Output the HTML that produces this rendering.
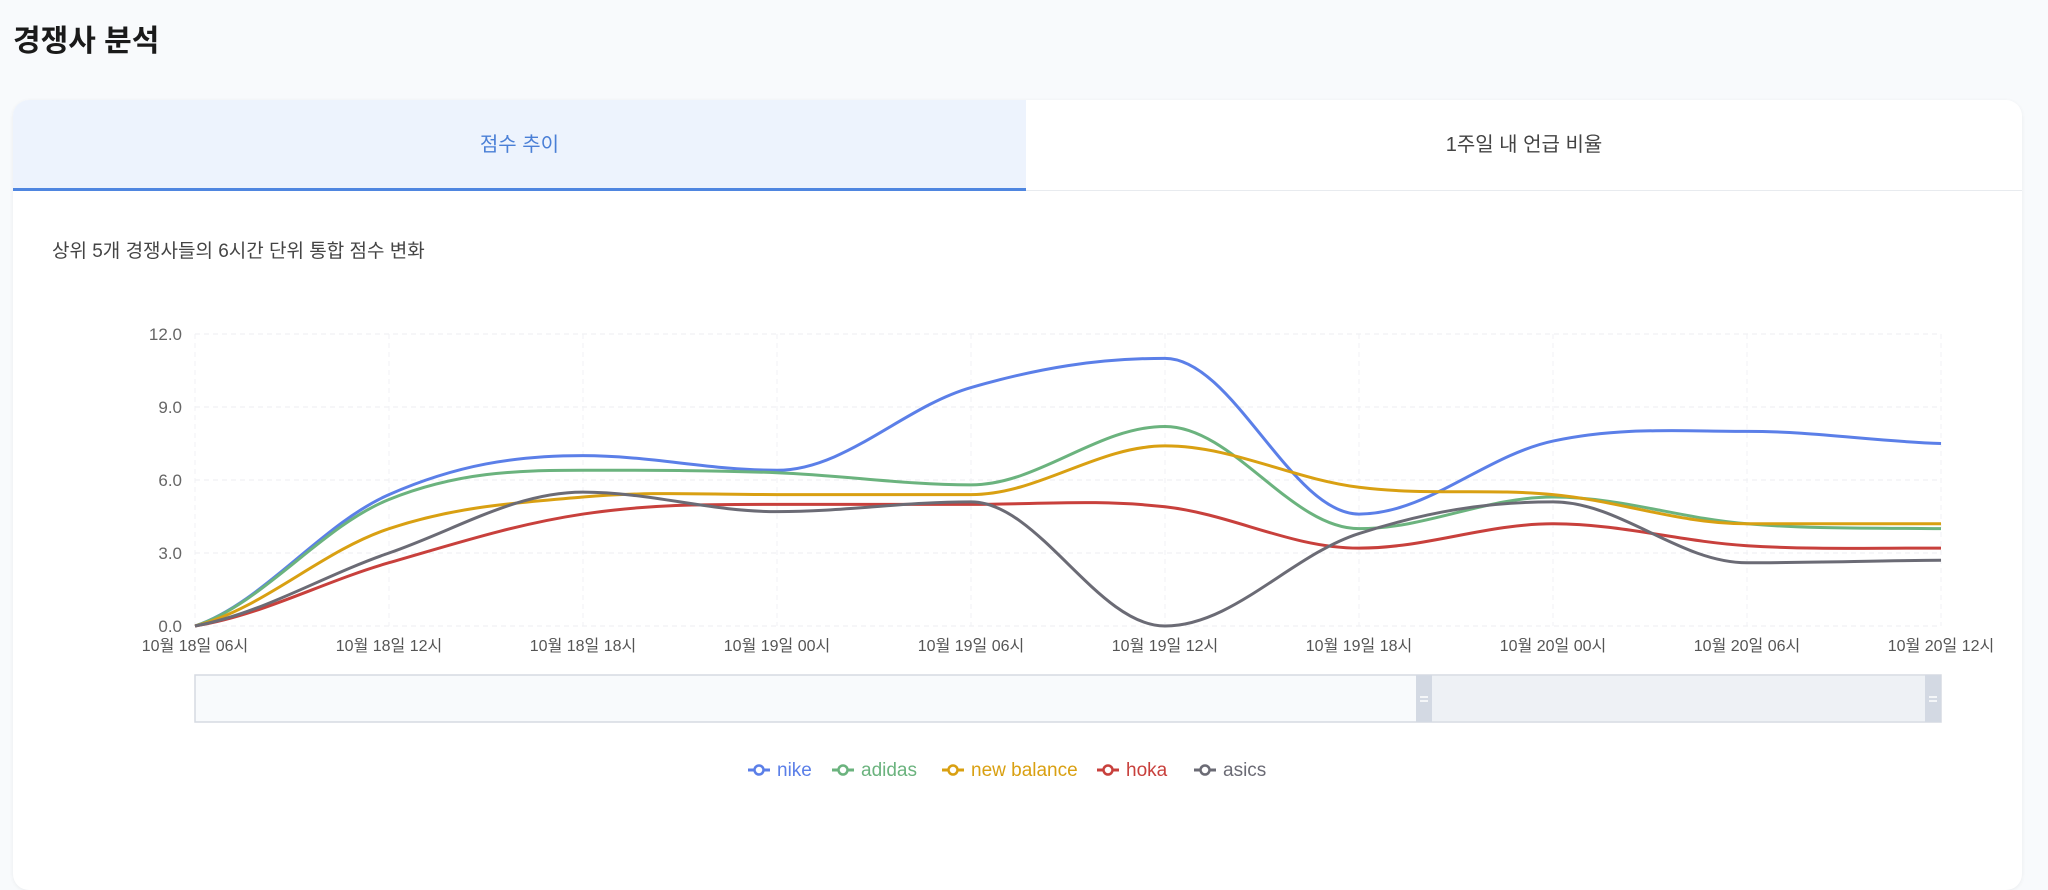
<!DOCTYPE html>
<html><head><meta charset="utf-8"><style>
body{margin:0;width:2048px;height:867px;background:#f8fafc;font-family:"Liberation Sans","Noto Sans CJK KR",sans-serif;overflow:hidden;position:relative}
.title{position:absolute;left:13px;top:16px;font-size:30px;font-weight:bold;color:#1a1a1a}
.card{position:absolute;left:13px;top:100px;width:2009px;height:790px;background:#fff;border-radius:16px;box-shadow:0 1px 4px rgba(0,0,0,0.06);overflow:hidden}
.tab{position:absolute;top:0;height:90px;line-height:90px;text-align:center;font-size:20px}
.t1{left:0;width:1013px;background:#edf3fd;color:#4a7fd6;border-bottom:3px solid #4f86e0;height:88px}
.t2{left:1013px;width:996px;color:#444;border-bottom:1px solid #e8ebef;height:90px}
.sub{position:absolute;left:52px;top:236px;font-size:19px;color:#444}
svg{position:absolute;left:0;top:0}
</style></head><body>
<div class="title">경쟁사 분석</div>
<div class="card">
<div class="tab t1">점수 추이</div>
<div class="tab t2">1주일 내 언급 비율</div>
</div>
<div class="sub">상위 5개 경쟁사들의 6시간 단위 통합 점수 변화</div>
<svg id="chart" width="2048" height="867"></svg>
<script>
const categories=["10월 18일 06시","10월 18일 12시","10월 18일 18시","10월 19일 00시","10월 19일 06시","10월 19일 12시","10월 19일 18시","10월 20일 00시","10월 20일 06시","10월 20일 12시"];
const yTicks=[0,3,6,9,12];
const seriesNames=["nike","adidas","new balance","hoka","asics"];
const nike=[0,5.4,7.0,6.4,9.8,11.0,4.6,7.6,8.0,7.5];
const adidas=[0,5.2,6.4,6.3,5.8,8.2,4.0,5.3,4.2,4.0];
const newBalance=[0,4.0,5.3,5.4,5.4,7.4,5.7,5.4,4.2,4.2];
const hoka=[0,2.6,4.6,5.0,5.0,4.9,3.2,4.2,3.3,3.2];
const asics=[0,3.0,5.5,4.7,5.1,0.0,3.8,5.1,2.6,2.7];
const colors=["#5b7fe8","#6bb37e","#d9a012","#c8403c","#6b6b75"];
const allSeries=[nike,adidas,newBalance,hoka,asics];
const L=195,R=1941,T=334,B=626,NS="http://www.w3.org/2000/svg";
const svg=document.getElementById('chart');
const xS=i=>L+(R-L)*i/(categories.length-1);
const yS=v=>B-(B-T)*v/12;
function mk(tag,attrs,parent){const e=document.createElementNS(NS,tag);for(const k in attrs)e.setAttribute(k,attrs[k]);(parent||svg).appendChild(e);return e;}
yTicks.forEach(v=>{
 const g=mk('line',{x1:L,x2:R,y1:yS(v),y2:yS(v),stroke:'#eceef2','stroke-dasharray':'5,4'});
 
 
 const t=mk('text',{x:L-13,y:yS(v)+6,'text-anchor':'end','font-size':17,fill:'#666'});
 t.textContent=v.toFixed(1);
 
 
});
categories.forEach((c,i)=>{
 const g=mk('line',{x1:xS(i),x2:xS(i),y1:T,y2:B,stroke:'#f0f1f4','stroke-dasharray':'5,4'});
 
 
 const t=mk('text',{x:xS(i),y:B+25,'text-anchor':'middle','font-size':16,fill:'#555'});
 t.textContent=c;
 
 
});
function path(vals){
 const p=vals.map((v,i)=>[xS(i),yS(v)]);
 let d=`M${p[0][0]},${p[0][1]}`;const s=0.35;
 for(let i=0;i<p.length-1;i++){
  const p0=p[i-1]||p[i],p1=p[i],p2=p[i+1],p3=p[i+2]||p2;
  let c1y=p1[1]+(p2[1]-p0[1])*s*0.5, c2y=p2[1]-(p3[1]-p1[1])*s*0.5;
  if(i>0&&((p1[1]-p0[1])*(p2[1]-p1[1])<=0))c1y=p1[1];
  if(i<p.length-2&&((p2[1]-p1[1])*(p3[1]-p2[1])<=0))c2y=p2[1];
  const dx=(p2[0]-p1[0])*s;
  d+=` C${p1[0]+dx},${c1y} ${p2[0]-dx},${c2y} ${p2[0]},${p2[1]}`;
 }
 return d;
}
allSeries.forEach((vals,k)=>{
 const e=mk('path',{d:path(vals),fill:'none',stroke:colors[k],'stroke-width':3});
 
 
});
const sl=mk('rect',{x:L,y:675,width:R-L,height:47,fill:'#f8fafc',stroke:'#d5dae2','stroke-width':1.5});


const sel=mk('rect',{x:1424,y:676,width:R-1424,height:45,fill:'#eef1f5'});


[1416,1925].forEach(x=>{
 const h=mk('rect',{x:x,y:675,width:16,height:47,fill:'#d3d9e3'});
 
 
 mk('line',{x1:x+4,x2:x+12,y1:697,y2:697,stroke:'#fff','stroke-width':1.5});
 mk('line',{x1:x+4,x2:x+12,y1:701,y2:701,stroke:'#fff','stroke-width':1.5});
});
const legendX=[748,832,942,1097,1194];
seriesNames.forEach((n,k)=>{
 const lx=legendX[k];
 const g=mk('g',{});
 
 
 mk('line',{x1:lx,x2:lx+22,y1:770,y2:770,stroke:colors[k],'stroke-width':3},g);
 mk('circle',{cx:lx+11,cy:770,r:4.5,fill:'#fff',stroke:colors[k],'stroke-width':2.5},g);
 const t=mk('text',{x:lx+29,y:776,'font-size':19,fill:colors[k]},g);
 t.textContent=n;
});
</script>
</body></html>
